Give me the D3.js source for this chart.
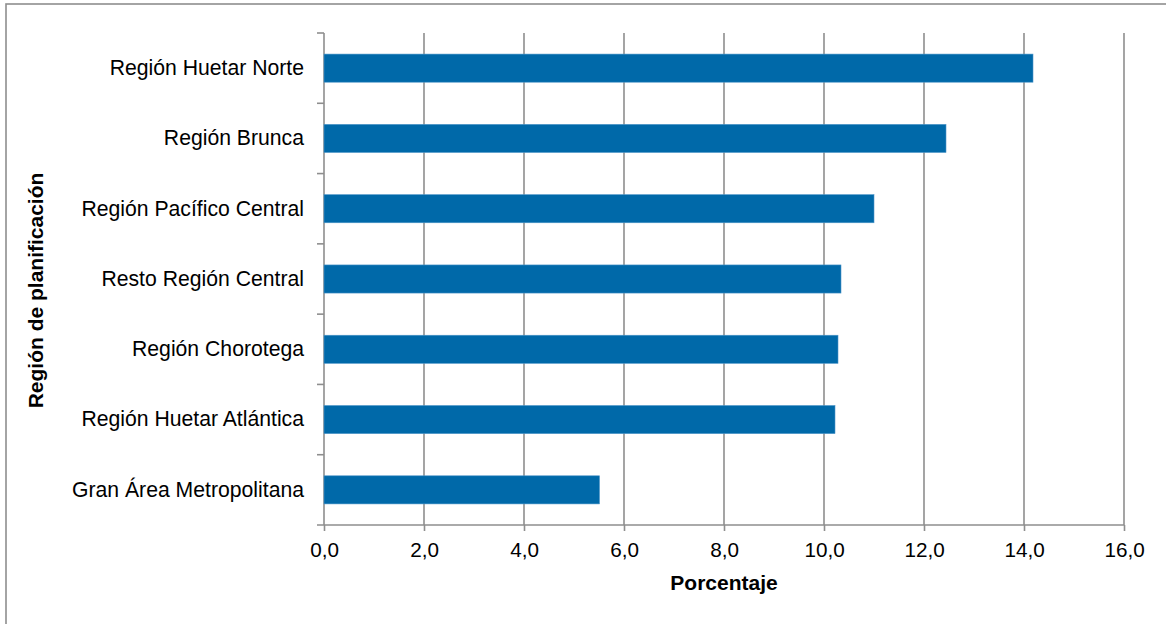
<!DOCTYPE html>
<html>
<head>
<meta charset="utf-8">
<script src="https://cdn.jsdelivr.net/npm/d3@7"></script>
<style>
  html, body { margin: 0; padding: 0; background: #fff; }
  svg { display: block; font-family: "Liberation Sans", Arial, sans-serif; }
</style>
</head>
<body>
<svg id="chart" width="1166" height="624"></svg>
<script>
const categories = [
  "Región Huetar Norte",
  "Región Brunca",
  "Región Pacífico Central",
  "Resto Región Central",
  "Región Chorotega",
  "Región Huetar Atlántica",
  "Gran Área Metropolitana"
];
const values = [14.18, 12.44, 11.0, 10.34, 10.28, 10.22, 5.51];
const xTicks = [0, 2, 4, 6, 8, 10, 12, 14, 16];
const xTitle = "Porcentaje";
const yTitle = "Región de planificación";

(function () {
const svg = d3.select("#chart");
const W = 1166, H = 624;
const pL = 324, pR = 1124, pT = 33, pB = 525;
const gray = "#8e8e8e";

// outer frame (cropped at right & bottom like the reference)
svg.append("rect")
  .attr("x", 6).attr("y", 4)
  .attr("width", W + 20).attr("height", H + 20)
  .attr("fill", "none").attr("stroke", gray).attr("stroke-width", 1.6);

const x = d3.scaleLinear().domain([0, 16]).range([pL, pR]);
const y = d3.scaleBand().domain(categories).range([pT, pB]).paddingInner(0.6).paddingOuter(0.3);

const fmt = d => d3.format(".1f")(d).replace(".", ",");

// gridlines
svg.append("g").selectAll("line").data(xTicks).join("line")
  .attr("x1", d => x(d)).attr("x2", d => x(d))
  .attr("y1", pT).attr("y2", pB)
  .attr("stroke", gray).attr("stroke-width", 1.6);

// bars
svg.append("g").selectAll("rect").data(categories).join("rect")
  .attr("x", x(0))
  .attr("y", d => y(d))
  .attr("width", (d, i) => x(values[i]) - x(0))
  .attr("height", y.bandwidth())
  .attr("fill", "#0069a9")
  .attr("stroke", "#4d95c8").attr("stroke-width", 0.6);

// x axis
const xAxis = svg.append("g").attr("transform", `translate(0,${pB})`)
  .call(d3.axisBottom(x).tickValues(xTicks).tickFormat(fmt).tickSize(6).tickPadding(11.5));
xAxis.select(".domain").remove();
xAxis.selectAll(".tick line").attr("stroke", gray).attr("stroke-width", 1.6);
xAxis.selectAll(".tick text").attr("font-size", "20.7px").attr("fill", "#000")
  .attr("font-family", "Liberation Sans, Arial, sans-serif");
svg.append("line").attr("x1", x(0) - 7).attr("x2", x(16)).attr("y1", pB).attr("y2", pB)
  .attr("stroke", gray).attr("stroke-width", 1.6);

// y axis labels
const yAxis = svg.append("g").attr("transform", `translate(${pL},0)`)
  .call(d3.axisLeft(y).tickSize(0).tickPadding(20));
yAxis.select(".domain").remove();
yAxis.selectAll(".tick text").attr("font-size", "21.2px").attr("fill", "#000")
  .attr("font-family", "Liberation Sans, Arial, sans-serif");

// y boundary ticks
const bounds = categories.map(c => y(c) - y.step() * y.paddingInner() / 2);
svg.append("g").selectAll("line").data(bounds).join("line")
  .attr("x1", x(0) - 7).attr("x2", x(0))
  .attr("y1", d => d).attr("y2", d => d)
  .attr("stroke", gray).attr("stroke-width", 1.6);

// titles
svg.append("text")
  .attr("x", (pL + pR) / 2).attr("y", 590)
  .attr("text-anchor", "middle").attr("font-weight", "bold").attr("font-size", "21px")
  .text(xTitle);
svg.append("text")
  .attr("transform", "translate(43,290.5) rotate(-90)")
  .attr("text-anchor", "middle").attr("font-weight", "bold").attr("font-size", "21px")
  .text(yTitle);
})();
</script>
</body>
</html>
